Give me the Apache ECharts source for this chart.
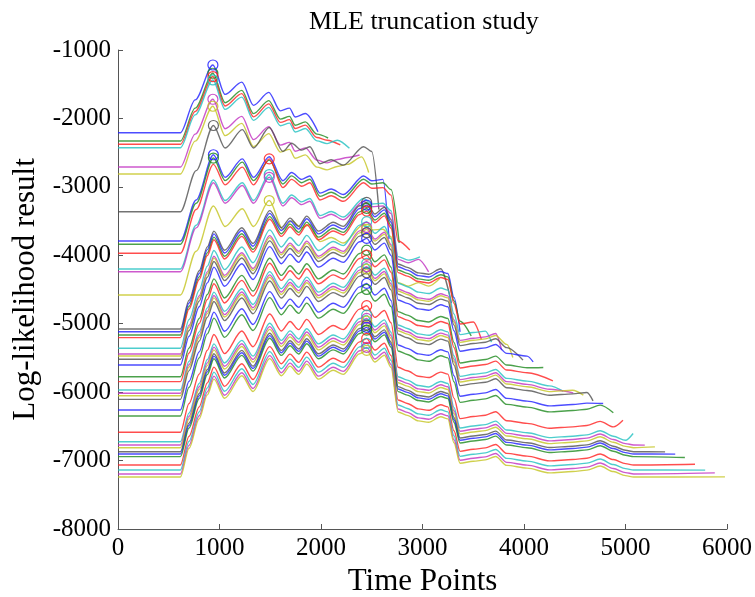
<!DOCTYPE html>
<html>
<head>
<meta charset="utf-8">
<script src="https://cdn.jsdelivr.net/npm/echarts@6/dist/echarts.min.js"></script>
<style>
html,body{margin:0;padding:0;background:#fff;}
#chart{width:755px;height:597px;}
</style>
</head>
<body>
<div id="chart"></div>
<script>
// ---- tick labels ----
const xTickLabels = ['0','1000','2000','3000','4000','5000','6000'];
const yTickLabels = ['-8000','-7000','-6000','-5000','-4000','-3000','-2000','-1000'];

// ---- shape profiles (value above each line's starting level) ----
const profA_x = [0,615,760,935,1055,1220,1335,1485,1600,1690,1745,1845,1960,2060,2160,2260,2400,2460];
const profA_y = [0,0,480,990,560,740,400,590,320,360,230,280,100,60,110,140,250,220];

const profB_x = [0,615,770,940,1055,1225,1335,1490,1625,1710,1810,1890,1990,2100,2220,2420,2500,2610,2690,2760,2860,2960,3060,3170];
const profB_y = [0,0,600,1260,930,1200,930,1230,880,1000,900,950,700,760,680,950,880,900,800,150,100,150,100,120];
const profB2_y = [0,0,640,1300,1000,1260,1000,1380,960,1080,980,1030,780,840,760,1030,950,960,850,180,130,180,130,150];

const profC_x = [0,615,700,800,880,945,1050,1220,1330,1495,1610,1695,1780,1860,1975,2120,2220,2380,2450,2530,2625,2690,2760,2850,2960,3060,3180,3250,3310,3370,3500,3620,3720,3830,4030,4250,4480,4620,4750,4880,5000,5080];
const profC_y = [0,0,420,850,1200,1430,1150,1480,1250,1730,1480,1620,1500,1650,1430,1560,1500,1800,1850,1680,1780,1600,950,900,820,800,880,850,500,200,230,250,300,170,130,60,80,100,160,80,20,0];

// ---- per-line data ----
const lineGroup = ['A','A','A','A','A','A',
  'B','B','B','B2','B2','B2','B2',
  'C','C','C','C','C','C','C','C','C','C','C','C','C','C',
  'C','C','C','C','C','C','C','C','C','C','C','C','C','C'];
const lineStart = [-2209,-2330,-2378,-2428,-2710,-2812,
  -3363,-3791,-3839,-3971,-4200,-4240,-4580,
  -5077,-5117,-5165,-5204,-5359,-5443,-5472,-5520,-5603,-5774,-5847,-5969,-6017,-6052,
  -6105,-6261,-6349,-6587,-6724,-6772,-6812,-6870,-6904,-6943,-7065,-7138,-7196,-7240];
const lineEndX = [1970,2070,2190,2280,2380,2470,
  2570,2670,2770,2875,2975,3060,3170,
  3285,3370,3480,3580,3680,3780,3890,3990,4090,4190,4285,4385,4485,4585,
  4680,4780,4880,4975,5075,5190,5290,5390,5490,5585,5685,5785,5880,5980];
const lineEndY = [-2194,-2286,-2388,-2437,-2535,-2790,
  -3330,-3760,-3820,-3924,-4022,-4241,-4338,
  -4700,-5118,-5180,-5229,-5269,-5386,-5493,-5532,-5557,-5639,-5835,-5985,-6010,-6044,
  -6127,-6166,-6300,-6409,-6604,-6775,-6800,-6873,-6906,-6955,-7053,-7140,-7180,-7238];
const colorCycle = ['#1f1fff','#1e8a1e','#ff2020','#20c0c0','#c030c0','#c4c420','#505050'];

const profiles = {
  A: {x: profA_x, y: profA_y},
  B: {x: profB_x, y: profB_y},
  B2: {x: profB_x, y: profB2_y},
  C: {x: profC_x, y: profC_y}
};

const FONT = "'Times New Roman','Liberation Serif',serif";

const series = lineStart.map((s, i) => {
  const p = profiles[lineGroup[i]];
  const e = lineEndX[i];
  const data = [];
  for (let k = 0; k < p.x.length; k++) {
    if (p.x[k] <= e - 60) data.push([p.x[k], s + p.y[k]]);
  }
  data.push([e, lineEndY[i]]);
  const c = colorCycle[i % colorCycle.length];
  return {
    type: 'line',
    data: data,
    smooth: 0.3,
    smoothMonotone: 'x',
    showSymbol: false,
    symbol: 'none',
    silent: true,
    lineStyle: {color: c, width: 1.4, opacity: 0.8},
    itemStyle: {color: c},
    markPoint: {
      symbol: 'circle',
      symbolSize: 10,
      silent: true,
      label: {show: false},
      itemStyle: {color: 'rgba(0,0,0,0)', borderColor: c, borderWidth: 1.2, opacity: 0.85},
      data: [{type: 'max', valueDim: 'y'}]
    },
    z: 2
  };
});

const chart = echarts.init(document.getElementById('chart'), null, {renderer: 'canvas'});
chart.setOption({
  animation: false,
  backgroundColor: '#fff',
  title: {
    text: 'MLE truncation study',
    left: 304, top: 4,
    textStyle: {fontFamily: FONT, fontSize: 26, fontWeight: 'normal', color: '#000'}
  },
  grid: {left: 118, right: 28, top: 50, bottom: 68, containLabel: false, outerBoundsMode: 'none'},
  xAxis: {
    type: 'value', min: 0, max: 6000, interval: 1000,
    name: 'Time Points', nameLocation: 'middle', nameGap: 31,
    nameTextStyle: {fontFamily: FONT, fontSize: 31, color: '#000'},
    axisLine: {show: true, lineStyle: {color: '#555', width: 1}},
    axisTick: {show: true, inside: true, length: 5, lineStyle: {color: '#555'}},
    axisLabel: {fontFamily: FONT, fontSize: 25, color: '#000', margin: 7,
      formatter: (v, idx) => xTickLabels[idx] !== undefined ? xTickLabels[idx] : String(v)},
    splitLine: {show: false}
  },
  yAxis: {
    type: 'value', min: -8000, max: -1000, interval: 1000,
    name: 'Log-likelihood result', nameLocation: 'middle', nameGap: 74,
    nameTextStyle: {fontFamily: FONT, fontSize: 31, color: '#000'},
    axisLine: {show: true, lineStyle: {color: '#555', width: 1}},
    axisTick: {show: true, inside: true, length: 5, lineStyle: {color: '#555'}},
    axisLabel: {fontFamily: FONT, fontSize: 25, color: '#000', margin: 7,
      formatter: (v, idx) => yTickLabels[idx] !== undefined ? yTickLabels[idx] : String(v)},
    splitLine: {show: false}
  },
  series: series
});
</script>
</body>
</html>
